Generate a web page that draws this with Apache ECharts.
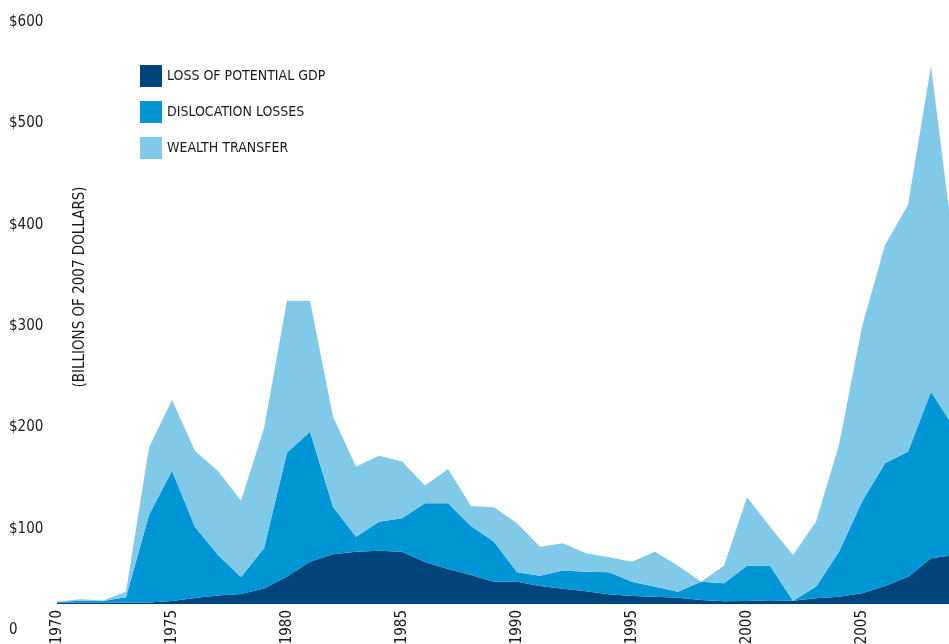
<!DOCTYPE html>
<html>
<head>
<meta charset="utf-8">
<script src="https://cdn.jsdelivr.net/npm/echarts@6/dist/echarts.min.js"></script>
<style>
html,body{margin:0;padding:0;background:#fff;}
#chart{width:949px;height:644px;}
</style>
</head>
<body>
<div id="chart"></div>
<script>
var years = ['1970','1971','1972','1973','1974','1975','1976','1977','1978','1979',
  '1980','1981','1982','1983','1984','1985','1986','1987','1988','1989',
  '1990','1991','1992','1993','1994','1995','1996','1997','1998','1999',
  '2000','2001','2002','2003','2004','2005','2006','2007','2008','2009'];

// Values read against the printed $ tick labels (chart baseline sits near $26)
var lossOfPotentialGDP = [27.1,27.1,27.1,27.1,27.1,28.6,31.6,34.0,35.5,41.0,
  52.8,67.4,74.7,77.3,78.3,77.3,67.1,60.2,54.3,47.7,
  47.7,43.4,40.8,38.2,35.2,33.6,32.9,31.9,29.6,28.3,
  28.6,29.3,28.9,31.3,32.9,36.2,43.4,52.6,70.8,74.0];
var dislocationLosses = [0.5,1.8,1.5,5.1,86.4,128.6,70.1,40.0,16.8,39.7,
  122.2,128.3,46.7,14.8,28.6,33.0,57.9,64.8,48.4,39.5,
  9.3,10.2,17.8,19.3,21.7,14.1,9.9,5.9,18.1,17.8,
  34.8,34.1,0,11.4,44.4,90.4,121.1,123.4,164.4,125.7];
var wealthTransfer = [0.3,1.4,0.5,5.5,66.6,69.8,75.0,82.9,75.3,118.2,
  150.0,129.3,89.1,69.1,65.1,55.9,17.6,33.8,19.7,33.9,
  48.4,28.6,27.0,18.2,14.8,19.7,34.5,25.7,0,17.4,
  67.5,38.5,45.1,64.1,105.3,172.7,215.4,243.5,321.4,175.3];
var baselineValue = 25.7;
var yTicks = [0,100,200,300,400,500,600];
var seriesNames = ['LOSS OF POTENTIAL GDP','DISLOCATION LOSSES','WEALTH TRANSFER'];
var axisTitle = '(BILLIONS OF 2007 DOLLARS)';

var FONT = '"Liberation Sans Narrow","DejaVu Sans Condensed","Roboto",sans-serif';
var colors = ['#00447b','#0096d5','#80c9e9'];

var chart = echarts.init(document.getElementById('chart'), null, {renderer:'canvas'});

function mk(name, data, color, extraArea){
  var area = {color: color, opacity: 1};
  if (extraArea) for (var k in extraArea) area[k] = extraArea[k];
  return {
    name: name, type: 'line', stack: 'total', data: data,
    showSymbol: false, symbol: 'none',
    lineStyle: {width: 0, color: color},
    itemStyle: {color: color},
    areaStyle: area,
    emphasis: {disabled: true},
    animation: false
  };
}

chart.setOption({
  animation: false,
  color: colors,
  grid: {left: 57, right: -5, top: 22, bottom: 14, containLabel: false, outerBoundsMode: 'none'},
  legend: {
    orient: 'vertical', left: 135, top: 60,
    itemWidth: 22, itemHeight: 22, itemGap: 14,
    icon: 'rect',
    selectedMode: false,
    data: seriesNames,
    textStyle: {fontFamily: FONT, fontSize: 14, color: '#1a1a1a'}
  },
  xAxis: {
    type: 'category', data: years, boundaryGap: false,
    axisLine: {show: false}, axisTick: {show: false},
    splitLine: {show: false},
    axisLabel: {
      rotate: 90, margin: -20, fontFamily: FONT, fontSize: 15, color: '#1a1a1a',
      interval: function(i){ return i % 5 === 0; }
    }
  },
  yAxis: {
    type: 'value', min: 0, max: 600, interval: 100,
    axisLine: {show: false}, axisTick: {show: false},
    splitLine: {show: false},
    axisLabel: {
      align: 'left', margin: 48, fontFamily: FONT, fontSize: 15, color: '#1a1a1a',
      formatter: function(v){ return yTicks.indexOf(v) === 0 ? '0' : '$' + v; }
    }
  },
  graphic: [{
    type: 'text', x: 80, y: 287, rotation: Math.PI/2,
    style: {text: axisTitle, font: '15px ' + FONT, fill: '#1a1a1a', align: 'center', verticalAlign: 'middle'}
  }],
  series: [
    mk(seriesNames[0], lossOfPotentialGDP, colors[0], {origin: baselineValue}),
    mk(seriesNames[1], dislocationLosses, colors[1]),
    mk(seriesNames[2], wealthTransfer, colors[2])
  ]
});
</script>
</body>
</html>
